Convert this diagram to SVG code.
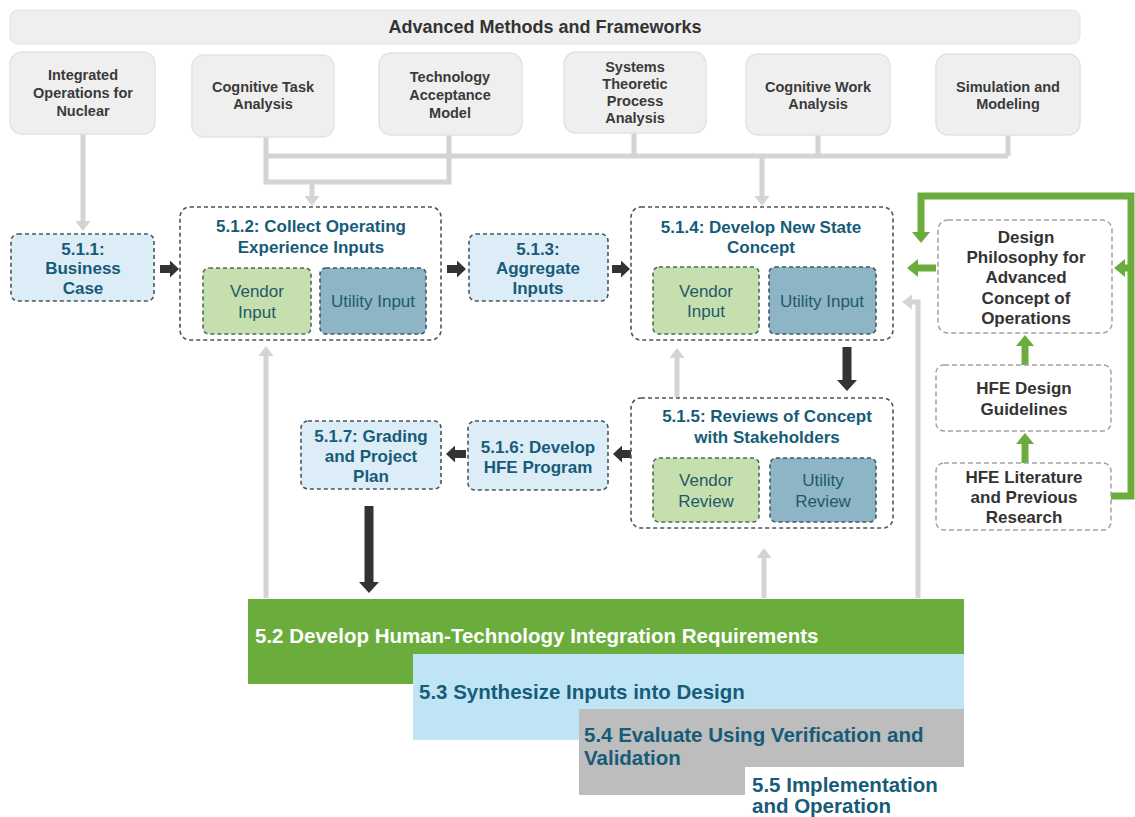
<svg xmlns="http://www.w3.org/2000/svg" width="1135" height="817" viewBox="0 0 1135 817">
<style>
text{font-family:"Liberation Sans",Arial,sans-serif}
.tb{fill:#efefef;stroke:#e4e4e4;stroke-width:1.2}
.mb{fill:#efefef;stroke:#e2e2e2;stroke-width:1.5}
.mt{font-size:14.5px;font-weight:bold;fill:#3a3a3a;text-anchor:middle}
.nb{fill:#dcedf7;stroke:#45585f;stroke-width:1.6;stroke-dasharray:4 3}
.cb{fill:#fff;stroke:#45585f;stroke-width:1.6;stroke-dasharray:4 3}
.nt{font-size:17px;font-weight:bold;fill:#165c78;text-anchor:middle}
.vb{fill:#c6dfae;stroke:#4f6a55;stroke-width:1.6;stroke-dasharray:4 3}
.ub{fill:#8db5c6;stroke:#3f5861;stroke-width:1.6;stroke-dasharray:4 3}
.st{font-size:17px;fill:#1f5a6a;text-anchor:middle}
.db{fill:#fff;stroke:#a3a3a3;stroke-width:1.5;stroke-dasharray:5 3}
.dt{font-size:17px;font-weight:bold;fill:#333;text-anchor:middle}
.g{stroke:#d4d4d4;stroke-width:5;fill:none}
.k{stroke:#333;stroke-width:8;fill:none}
.kv{stroke:#333;stroke-width:9;fill:none}
.gr{stroke:#6aad3c;stroke-width:7;fill:none}
.bt{font-size:20.5px;font-weight:bold}
</style>
<defs>
<marker id="ag" viewBox="0 0 10 10" refX="0" refY="5" markerWidth="10" markerHeight="15" markerUnits="userSpaceOnUse" orient="auto" preserveAspectRatio="none"><path d="M0,0L10,5L0,10z" fill="#d4d4d4"/></marker>
<marker id="ak" viewBox="0 0 10 10" refX="0" refY="5" markerWidth="9" markerHeight="17" markerUnits="userSpaceOnUse" orient="auto" preserveAspectRatio="none"><path d="M0,0L10,5L0,10z" fill="#333"/></marker>
<marker id="akv" viewBox="0 0 10 10" refX="0" refY="5" markerWidth="11" markerHeight="20" markerUnits="userSpaceOnUse" orient="auto" preserveAspectRatio="none"><path d="M0,0L10,5L0,10z" fill="#333"/></marker>
<marker id="agr" viewBox="0 0 10 10" refX="0" refY="5" markerWidth="11" markerHeight="18" markerUnits="userSpaceOnUse" orient="auto" preserveAspectRatio="none"><path d="M0,0L10,5L0,10z" fill="#6aad3c"/></marker>
</defs>

<g id="connectors">
<path class="g" d="M266,137V182H449V135"/>
<path class="g" d="M266,156H1008M634,133V156M818,135V156M1008,135V156"/>
<path class="g" d="M83,134V221" marker-end="url(#ag)"/>
<path class="g" d="M312,182V196" marker-end="url(#ag)"/>
<path class="g" d="M762,156V196" marker-end="url(#ag)"/>
<path class="g" d="M266,598V356" marker-end="url(#ag)"/>
<path class="g" d="M677,397V358" marker-end="url(#ag)"/>
<path class="g" d="M764,598V558" marker-end="url(#ag)"/>
<path class="g" d="M918,598V302H912" marker-end="url(#ag)"/>
<path class="k" d="M160,269H170" marker-end="url(#ak)"/>
<path class="k" d="M447,269H457" marker-end="url(#ak)"/>
<path class="k" d="M612,269H621" marker-end="url(#ak)"/>
<path class="k" d="M631,454H622" marker-end="url(#ak)"/>
<path class="k" d="M466,454H455" marker-end="url(#ak)"/>
<path class="kv" d="M847,347V380" marker-end="url(#akv)"/>
<path class="kv" d="M369,506V582" marker-end="url(#akv)"/>
<path class="gr" d="M1111,496H1131V196H921V232" marker-end="url(#agr)"/>
<path class="gr" d="M1131,268H1125" marker-end="url(#agr)"/>
<path class="gr" d="M936,268H918" marker-end="url(#agr)"/>
<path class="gr" d="M1025,366V346" marker-end="url(#agr)"/>
<path class="gr" d="M1025,463V444" marker-end="url(#agr)"/>
</g>

<g id="frameworks">
<rect class="tb" x="10" y="10" width="1070" height="34" rx="8"/>
<text x="545" y="33" text-anchor="middle" style="font-size:18px;font-weight:bold;fill:#333">Advanced Methods and Frameworks</text>
</g>
<g id="ion"><rect class="mb" x="10" y="52" width="145" height="82" rx="12"/>
<text class="mt"><tspan x="83" y="80">Integrated</tspan><tspan x="83" y="98">Operations for</tspan><tspan x="83" y="116">Nuclear</tspan></text></g>
<g id="cta"><rect class="mb" x="192" y="55" width="142" height="82" rx="12"/>
<text class="mt"><tspan x="263" y="92">Cognitive Task</tspan><tspan x="263" y="109">Analysis</tspan></text></g>
<g id="tam"><rect class="mb" x="379" y="53" width="143" height="82" rx="12"/>
<text class="mt"><tspan x="450" y="82">Technology</tspan><tspan x="450" y="100">Acceptance</tspan><tspan x="450" y="118">Model</tspan></text></g>
<g id="stpa"><rect class="mb" x="564" y="52" width="142" height="81" rx="12"/>
<text class="mt"><tspan x="635" y="72">Systems</tspan><tspan x="635" y="89">Theoretic</tspan><tspan x="635" y="106">Process</tspan><tspan x="635" y="123">Analysis</tspan></text></g>
<g id="cwa"><rect class="mb" x="746" y="54" width="144" height="81" rx="12"/>
<text class="mt"><tspan x="818" y="92">Cognitive Work</tspan><tspan x="818" y="109">Analysis</tspan></text></g>
<g id="sim"><rect class="mb" x="936" y="54" width="144" height="81" rx="12"/>
<text class="mt"><tspan x="1008" y="92">Simulation and</tspan><tspan x="1008" y="109">Modeling</tspan></text></g>

<g id="n511"><rect class="nb" x="11" y="234" width="143" height="67" rx="7"/>
<text class="nt"><tspan x="83" y="255">5.1.1:</tspan><tspan x="83" y="274">Business</tspan><tspan x="83" y="294">Case</tspan></text></g>
<g id="n512"><rect class="cb" x="180" y="207" width="261" height="133" rx="10"/>
<text class="nt"><tspan x="311" y="232">5.1.2: Collect Operating</tspan><tspan x="311" y="253">Experience Inputs</tspan></text>
<rect class="vb" x="203" y="268" width="108" height="66" rx="6"/>
<text class="st"><tspan x="257" y="297">Vendor</tspan><tspan x="257" y="318">Input</tspan></text>
<rect class="ub" x="320" y="268" width="106" height="66" rx="6"/>
<text class="st" x="373" y="307">Utility Input</text></g>
<g id="n513"><rect class="nb" x="469" y="234" width="139" height="67" rx="7"/>
<text class="nt"><tspan x="538" y="255">5.1.3:</tspan><tspan x="538" y="274">Aggregate</tspan><tspan x="538" y="294">Inputs</tspan></text></g>
<g id="n514"><rect class="cb" x="631" y="207" width="262" height="133" rx="10"/>
<text class="nt"><tspan x="761" y="233">5.1.4: Develop New State</tspan><tspan x="761" y="253">Concept</tspan></text>
<rect class="vb" x="653" y="267" width="106" height="67" rx="6"/>
<text class="st"><tspan x="706" y="297">Vendor</tspan><tspan x="706" y="317">Input</tspan></text>
<rect class="ub" x="769" y="267" width="107" height="67" rx="6"/>
<text class="st" x="822" y="307">Utility Input</text></g>
<g id="n515"><rect class="cb" x="631" y="398" width="262" height="130" rx="10"/>
<text class="nt"><tspan x="767" y="422">5.1.5: Reviews of Concept</tspan><tspan x="767" y="443">with Stakeholders</tspan></text>
<rect class="vb" x="653" y="458" width="106" height="64" rx="6"/>
<text class="st"><tspan x="706" y="486">Vendor</tspan><tspan x="706" y="507">Review</tspan></text>
<rect class="ub" x="770" y="458" width="106" height="64" rx="6"/>
<text class="st"><tspan x="823" y="486">Utility</tspan><tspan x="823" y="507">Review</tspan></text></g>
<g id="n516"><rect class="nb" x="468" y="421" width="140" height="69" rx="7"/>
<text class="nt"><tspan x="538" y="453">5.1.6: Develop</tspan><tspan x="538" y="473">HFE Program</tspan></text></g>
<g id="n517"><rect class="nb" x="301" y="421" width="140" height="68" rx="7"/>
<text class="nt"><tspan x="371" y="442">5.1.7: Grading</tspan><tspan x="371" y="462">and Project</tspan><tspan x="371" y="482">Plan</tspan></text></g>

<g id="philosophy"><rect class="db" x="938" y="220" width="174" height="113" rx="10"/>
<text class="dt"><tspan x="1026" y="243">Design</tspan><tspan x="1026" y="263">Philosophy for</tspan><tspan x="1026" y="283">Advanced</tspan><tspan x="1026" y="304">Concept of</tspan><tspan x="1026" y="324">Operations</tspan></text></g>
<g id="guidelines"><rect class="db" x="936" y="365" width="175" height="66" rx="8"/>
<text class="dt"><tspan x="1024" y="394">HFE Design</tspan><tspan x="1024" y="415">Guidelines</tspan></text></g>
<g id="literature"><rect class="db" x="936" y="463" width="175" height="67" rx="8"/>
<text class="dt"><tspan x="1024" y="483">HFE Literature</tspan><tspan x="1024" y="503">and Previous</tspan><tspan x="1024" y="523">Research</tspan></text></g>

<g id="s52"><rect x="248" y="599" width="716" height="85" fill="#6aad3c"/>
<text class="bt" x="255" y="643" fill="#fff">5.2 Develop Human-Technology Integration Requirements</text></g>
<g id="s53"><rect x="413" y="654" width="551" height="86" fill="#bfe4f6"/>
<text class="bt" x="419" y="699" fill="#165c78">5.3 Synthesize Inputs into Design</text></g>
<g id="s54"><rect x="579" y="709" width="385" height="86" fill="#bdbdbd"/>
<text class="bt" fill="#165c78"><tspan x="584" y="742">5.4 Evaluate Using Verification and</tspan><tspan x="584" y="765">Validation</tspan></text></g>
<g id="s55"><rect x="745" y="767" width="219" height="50" fill="#fff"/>
<text class="bt" fill="#165c78"><tspan x="752" y="792">5.5 Implementation</tspan><tspan x="752" y="813">and Operation</tspan></text></g>
</svg>
